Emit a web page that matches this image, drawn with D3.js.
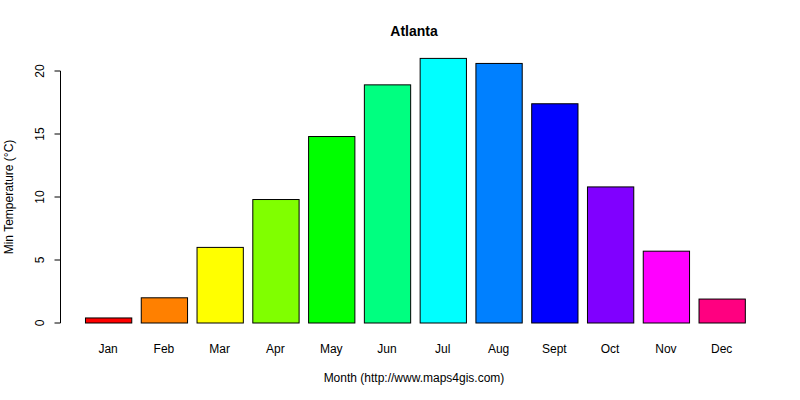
<!DOCTYPE html>
<html>
<head>
<script src="https://cdn.jsdelivr.net/npm/d3@7"></script>
<style>body{margin:0;background:#fff}</style>
</head>
<body>
<div id="chart"></div>
<script>
let months = ['Jan','Feb','Mar','Apr','May','Jun','Jul','Aug','Sept','Oct','Nov','Dec'];
let minTemp = [0.4, 2.0, 6.0, 9.8, 14.8, 18.9, 21.0, 20.6, 17.4, 10.8, 5.7, 1.9];
let colors = ['#FF0000','#FF8000','#FFFF00','#80FF00','#00FF00','#00FF80','#00FFFF','#0080FF','#0000FF','#8000FF','#FF00FF','#FF0080'];
let yTicks = [0, 5, 10, 15, 20];

let svg = d3.select('#chart').append('svg')
  .attr('width', 800).attr('height', 400)
  .style('font-family', 'Arial, Liberation Sans, sans-serif');

let x = d3.scaleBand().domain(months).range([79.4, 750.4]).paddingInner(0.17).paddingOuter(0.1);
let y = d3.scaleLinear().domain([0, 20]).range([323, 71]);

svg.selectAll('rect').data(months).enter().append('rect')
  .attr('x', d => x(d) + 0.5)
  .attr('y', (d,i) => y(minTemp[i]))
  .attr('width', x.bandwidth())
  .attr('height', (d,i) => y(0) - y(minTemp[i]))
  .attr('fill', (d,i) => colors[i])
  .attr('stroke', '#000').attr('stroke-width', 1);

// y axis
let ax = svg.append('g').attr('transform', 'translate(60.5,0)');
ax.append('line').attr('y1', y(0)).attr('y2', y(20)).attr('stroke', '#000');
yTicks.forEach(t => {
  ax.append('line').attr('x1', -6).attr('x2', 0).attr('y1', y(t)).attr('y2', y(t)).attr('stroke', '#000');
  ax.append('text').attr('transform', `translate(-21,${y(t)}) rotate(-90)`)
    .attr('text-anchor', 'middle').attr('dy', '0.35em').attr('font-size', 12).text(t);
});

svg.selectAll('.xl').data(months).enter().append('text')
  .attr('x', d => x(d) + x.bandwidth() / 2).attr('y', 353)
  .attr('text-anchor', 'middle').attr('font-size', 12).text(d => d);

svg.append('text').attr('x', 414).attr('y', 36).attr('text-anchor', 'middle')
  .attr('font-size', 14).attr('font-weight', 'bold').text('Atlanta');
svg.append('text').attr('x', 414).attr('y', 382).attr('text-anchor', 'middle')
  .attr('font-size', 12).text('Month (http://www.maps4gis.com)');
svg.append('text').attr('transform', 'translate(13,197) rotate(-90)').attr('text-anchor', 'middle')
  .attr('font-size', 12).text('Min Temperature (°C)');
</script>
</body>
</html>
